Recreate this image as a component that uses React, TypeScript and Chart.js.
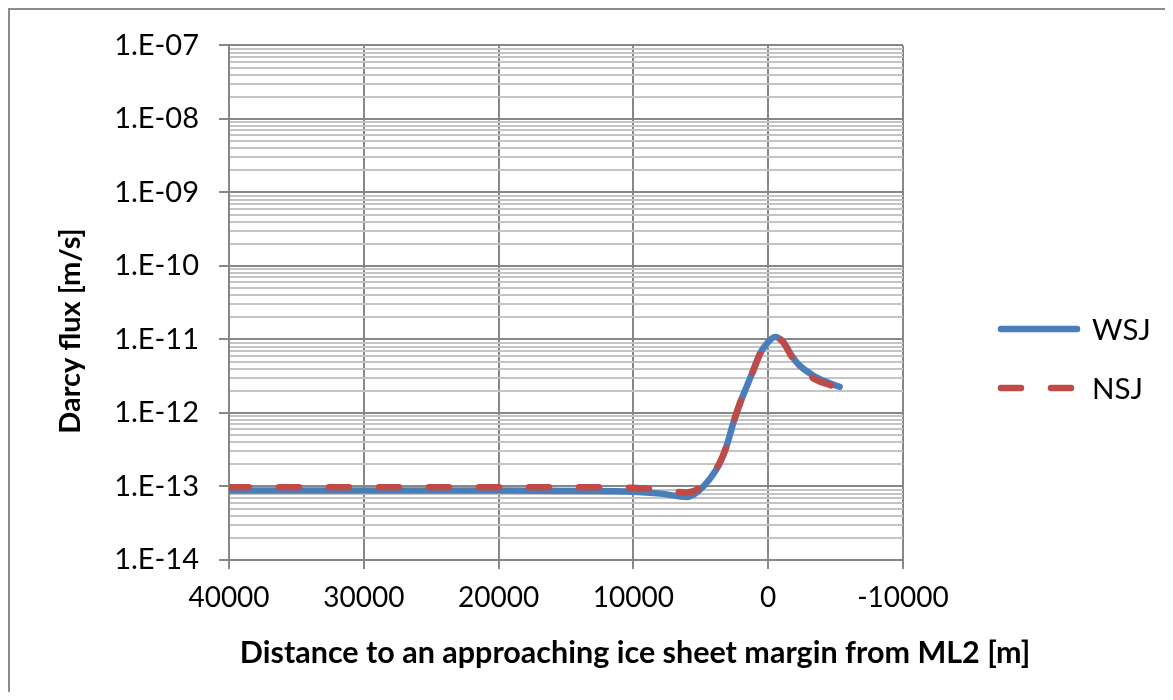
import React, { useEffect, useRef } from 'react';
import { Chart, registerables } from 'chart.js';

Chart.register(...registerables);

// ---- data ----
const distanceWSJ = [40000, 30000, 20000, 14000, 10000, 8000, 6000, 5100, 4300, 3600, 3100, 2600, 2100, 1600, 1100, 600, 100, -500, -1100, -1800, -2300, -3300, -4300, -5300];
const fluxWSJ = [8.8e-14, 8.8e-14, 8.8e-14, 8.7e-14, 8.5e-14, 8.0e-14, 7.2e-14, 8.9e-14, 1.29e-13, 2.06e-13, 3.5e-13, 7.2e-13, 1.35e-12, 2.27e-12, 3.83e-12, 6.44e-12, 8.8e-12, 1.08e-11, 9.3e-12, 5.8e-12, 4.47e-12, 3.27e-12, 2.65e-12, 2.27e-12];

const distanceNSJ = [40000, 30000, 20000, 14000, 10000, 8000, 6000, 5100, 4300, 3600, 3100, 2600, 2100, 1600, 1100, 600, 100, -500, -1100, -1800, -2300, -3300, -4300, -5300];
const fluxNSJ = [9.8e-14, 9.8e-14, 9.8e-14, 9.8e-14, 9.6e-14, 9.0e-14, 8.3e-14, 9.5e-14, 1.35e-13, 2.1e-13, 3.5e-13, 7.2e-13, 1.35e-12, 2.27e-12, 3.8e-12, 6.4e-12, 8.8e-12, 1.08e-11, 9.2e-12, 5.6e-12, 4.3e-12, 3.0e-12, 2.5e-12, 2.2e-12];

const seriesNames = ['WSJ', 'NSJ'];
const yDecadeExponents = [-14, -13, -12, -11, -10, -9, -8, -7];
const xTickValues = [40000, 30000, 20000, 10000, 0, -10000];
const xTitle = 'Distance to an approaching ice sheet margin from ML2 [m]';
const yTitle = 'Darcy flux [m/s]';

const FONT = 'Lato';
const MAJOR_GRID = '#878787';
const MINOR_GRID = '#c4c4c4';

const expLabel = (v: number) => {
  const e = Math.round(Math.log10(v));
  const s = Math.abs(e).toString().padStart(2, '0');
  return `1.E${e < 0 ? '-' : '+'}${s}`;
};

const decorPlugin = {
  id: 'decor',
  afterDraw(chart: any) {
    const ctx = chart.ctx as CanvasRenderingContext2D;
    ctx.save();
    // outer frame (left & top visible)
    ctx.fillStyle = '#8c8c8c';
    ctx.fillRect(0, 0, 2, chart.height);
    ctx.fillRect(0, 0, chart.width, 2);

    // axis titles
    ctx.fillStyle = '#000';
    ctx.textAlign = 'center';
    ctx.textBaseline = 'middle';
    ctx.font = `bold 30.5px ${FONT}`;
    ctx.fillText(xTitle, 627, 645);
    ctx.save();
    ctx.font = `bold 29px ${FONT}`;
    ctx.translate(63, 323);
    ctx.rotate(-Math.PI / 2);
    ctx.fillText(yTitle, 0, 0);
    ctx.restore();

    // legend
    const ys = [321, 380];
    chart.data.datasets.forEach((ds: any, i: number) => {
      ctx.save();
      ctx.strokeStyle = ds.borderColor;
      ctx.lineWidth = ds.borderWidth;
      ctx.lineCap = 'round';
      ctx.setLineDash(ds.borderDash || []);
      ctx.beginPath();
      ctx.moveTo(993, ys[i]);
      ctx.lineTo(1069, ys[i]);
      ctx.stroke();
      ctx.restore();
      ctx.fillStyle = '#000';
      ctx.font = `29.5px ${FONT}`;
      ctx.textAlign = 'left';
      ctx.textBaseline = 'middle';
      ctx.fillText(ds.label, 1084, ys[i] + 1);
    });
    ctx.restore();
  },
};

export default function App() {
  const ref = useRef<HTMLCanvasElement | null>(null);

  useEffect(() => {
    if (!ref.current) return;
    const chart = new Chart(ref.current, {
      type: 'line',
      data: {
        datasets: [
          {
            label: seriesNames[0],
            data: distanceWSJ.map((x, i) => ({ x, y: fluxWSJ[i] })),
            borderColor: '#4a7ebb',
            borderWidth: 6.5,
            borderCapStyle: 'round',
            borderJoinStyle: 'round',
            pointRadius: 0,
            cubicInterpolationMode: 'monotone',
            order: 2,
          },
          {
            label: seriesNames[1],
            data: distanceNSJ.map((x, i) => ({ x, y: fluxNSJ[i] })),
            borderColor: '#be4b48',
            borderWidth: 6.5,
            borderDash: [20, 30],
            borderCapStyle: 'round',
            borderJoinStyle: 'round',
            pointRadius: 0,
            cubicInterpolationMode: 'monotone',
            order: 1,
          },
        ],
      },
      options: {
        responsive: false,
        animation: false,
        devicePixelRatio: 1,
        layout: { padding: { top: 37, right: 262, left: 0, bottom: 0 } },
        plugins: { legend: { display: false }, tooltip: { enabled: false } },
        scales: {
          x: {
            type: 'linear',
            min: -10000,
            max: 40000,
            reverse: true,
            afterFit: (s: any) => { s.height = 132; },
            afterBuildTicks: (s: any) => { s.ticks = xTickValues.map((v) => ({ value: v })); },
            ticks: {
              autoSkip: false,
              maxRotation: 0,
              padding: 12,
              color: '#000',
              font: { family: FONT, size: 28 },
              callback: (v: any) => String(v),
            },
            grid: { color: MAJOR_GRID, lineWidth: 2, tickLength: 9, tickColor: MAJOR_GRID },
            border: { color: MAJOR_GRID, width: 2 },
          },
          y: {
            type: 'logarithmic',
            min: 1e-14,
            max: 1e-7,
            afterFit: (s: any) => { s.width = 221; },
            afterBuildTicks: (s: any) => {
              const t: any[] = [];
              yDecadeExponents.forEach((e, k) => {
                const last = k === yDecadeExponents.length - 1;
                for (let m = 1; m <= (last ? 1 : 9); m++) {
                  t.push({ value: Number(`${m}e${e}`), major: m === 1 });
                }
              });
              s.ticks = t;
            },
            ticks: {
              autoSkip: false,
              padding: 20,
              color: '#000',
              font: { family: FONT, size: 29 },
              callback: (v: any, i: number, ticks: any[]) => (ticks[i].major ? expLabel(v) : ''),
            },
            grid: {
              color: (c: any) => (c.tick && c.tick.major ? MAJOR_GRID : MINOR_GRID),
              tickColor: (c: any) => (c.tick && c.tick.major ? MAJOR_GRID : 'rgba(0,0,0,0)'),
              lineWidth: 2,
              tickLength: 10,
            },
            border: { color: MAJOR_GRID, width: 2 },
          },
        },
      } as any,
      plugins: [decorPlugin],
    });
    return () => chart.destroy();
  }, []);

  return (
    <div style={{ width: 1157, height: 684 }}>
      <canvas ref={ref} width={1157} height={684} style={{ display: 'block', width: 1157, height: 684 }} />
    </div>
  );
}
